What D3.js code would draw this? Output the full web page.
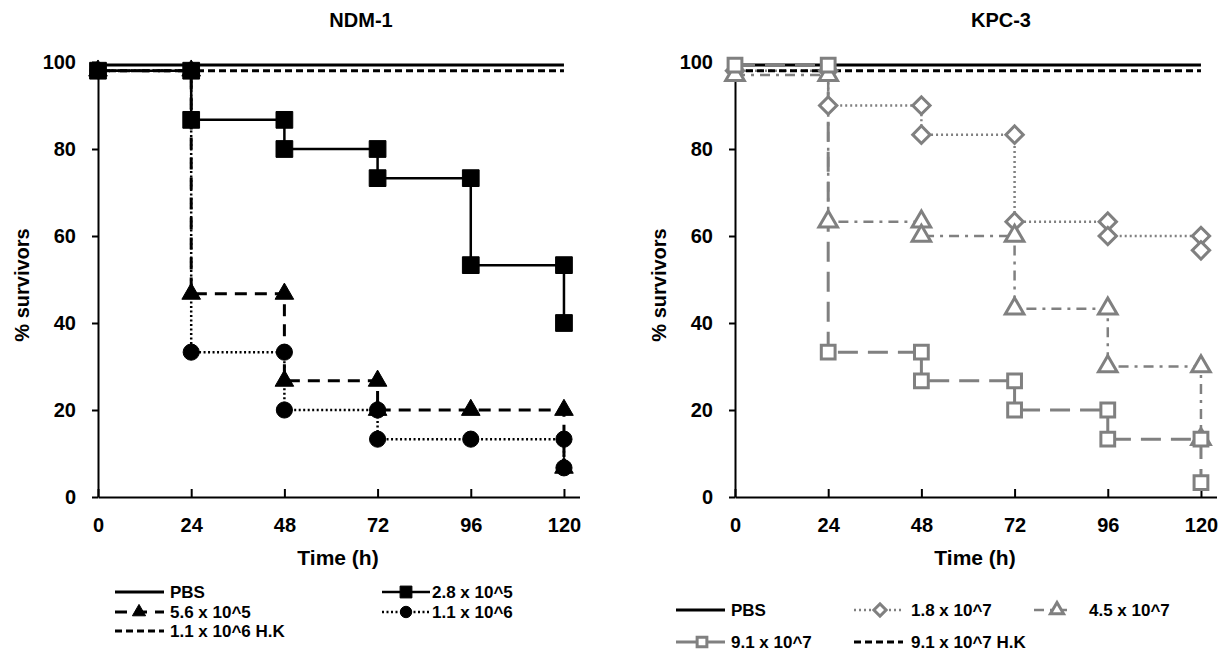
<!DOCTYPE html>
<html>
<head>
<meta charset="utf-8">
<script src="https://cdn.jsdelivr.net/npm/d3@7"></script>
<style>
  body { margin: 0; background: #fff; }
  text { font-family: "Liberation Sans", Arial, sans-serif; font-weight: bold; fill: #000; }
</style>
</head>
<body>
<div id="chart"></div>
<script>
// tick values
const ticksX = [0, 24, 48, 72, 96, 120];
const ticksY = [0, 20, 40, 60, 80, 100];

// NDM-1 panel
const ndmTitle = "NDM-1";
const ndmLabels = ["PBS", "2.8 x 10^5", "5.6 x 10^5", "1.1 x 10^6", "1.1 x 10^6 H.K"];
const ndmPbsT = [0, 120];
const ndmPbsV = [99.3, 99.3];
const ndmHkT = [0, 120];
const ndmHkV = [98, 98];
const ndm28T = [0, 24, 24, 48, 48, 72, 72, 96, 96, 120, 120];
const ndm28V = [98, 98, 86.7, 86.7, 80, 80, 73.3, 73.3, 53.3, 53.3, 40];
const ndm56T = [0, 24, 24, 48, 48, 72, 72, 96, 120, 120];
const ndm56V = [98, 98, 46.7, 46.7, 26.7, 26.7, 20, 20, 20, 6.7];
const ndm11T = [0, 24, 24, 48, 48, 72, 72, 96, 120, 120];
const ndm11V = [98, 98, 33.3, 33.3, 20, 20, 13.3, 13.3, 13.3, 6.7];

// KPC-3 panel
const kpcTitle = "KPC-3";
const kpcLabels = ["PBS", "1.8 x 10^7", "4.5 x 10^7", "9.1 x 10^7", "9.1 x 10^7 H.K"];
const kpcPbsT = [0, 120];
const kpcPbsV = [99.3, 99.3];
const kpcHkT = [0, 120];
const kpcHkV = [98, 98];
const kpcStepT = [0, 24, 24, 48, 48, 72, 72, 96, 96, 120, 120];
const kpc18V = [98, 98, 90, 90, 83.3, 83.3, 63.3, 63.3, 60, 60, 56.7];
const kpc45V = [97, 97, 63.3, 63.3, 60, 60, 43.3, 43.3, 30, 30, 13.3];
const kpc91V = [99.3, 99.3, 33.3, 33.3, 26.7, 26.7, 20, 20, 13.3, 13.3, 3.3];

const GRAY = "#808080";

const svg = d3.select("#chart").append("svg")
  .attr("width", 1228).attr("height", 651);

// line styles
const sPbs  = { color: "#000", width: 3, dash: null };
const sHk   = { color: "#000", width: 3, dash: "7,4" };
const s28   = { color: "#000", width: 2.5, dash: null, sym: d3.symbolSquare, size: 280, fill: "#000", sw: 1 };
const s56   = { color: "#000", width: 3, dash: "12,8", sym: d3.symbolTriangle, size: 150, fill: "#000", sw: 1 };
const s11   = { color: "#000", width: 2.5, dash: "2,2.5", sym: d3.symbolCircle, size: 205, fill: "#000", sw: 1 };
const s18   = { color: GRAY, width: 2.5, dash: "2,3", sym: d3.symbolSquare, rot: 45, size: 150, fill: "#fff", sw: 3 };
const s45   = { color: GRAY, width: 2.5, dash: "10,6,3,6", sym: d3.symbolTriangle, size: 150, fill: "#fff", sw: 3 };
const s91   = { color: GRAY, width: 3, dash: "20,10", sym: d3.symbolSquare, size: 190, fill: "#fff", sw: 3 };

function styleLine(sel, s) {
  sel.attr("fill", "none")
    .attr("stroke", s.color)
    .attr("stroke-width", s.width)
    .attr("stroke-dasharray", s.dash);
}

function marker(g, s, px, py, scale = 1) {
  g.append("path")
    .attr("d", d3.symbol().type(s.sym).size(s.size * scale)())
    .attr("transform", "translate(" + px + "," + py + ")" + (s.rot ? " rotate(" + s.rot + ")" : ""))
    .attr("fill", s.fill)
    .attr("stroke", s.color)
    .attr("stroke-width", s.sw);
}

function Panel(left, title, titleX, ylabX, xlabX) {
  const g = svg.append("g");
  const x = d3.scaleLinear().domain([0, 124]).range([left, left + 481.5]);
  const y = d3.scaleLinear().domain([0, 100]).range([497, 62]);
  this.x = x; this.y = y; this.g = g;

  const xa = g.append("g").attr("transform", "translate(0," + y(0) + ")")
    .call(d3.axisBottom(x).tickValues(ticksX).tickSize(-8).tickSizeOuter(0).tickPadding(21));
  const ya = g.append("g").attr("transform", "translate(" + left + ",0)")
    .call(d3.axisLeft(y).tickValues(ticksY).tickSize(6).tickSizeOuter(0).tickPadding(16));
  [xa, ya].forEach(a => {
    a.select(".domain").attr("stroke", "#000").attr("stroke-width", 2);
    a.selectAll(".tick line").attr("stroke", "#000").attr("stroke-width", 2);
    a.selectAll(".tick text").attr("font-size", 20).attr("fill", "#000")
      .style("font-family", "'Liberation Sans', Arial, sans-serif").style("font-weight", "bold");
  });

  g.append("text").attr("x", titleX).attr("y", 27).attr("text-anchor", "middle")
    .attr("font-size", 20).text(title);
  g.append("text").attr("x", xlabX).attr("y", 565).attr("text-anchor", "middle")
    .attr("font-size", 21).text("Time (h)");
  g.append("text").attr("transform", "translate(" + ylabX + ",285) rotate(-90)")
    .attr("text-anchor", "middle").attr("font-size", 20).text("% survivors");

  this.series = function(ts, vs, s, withMarkers = true) {
    const idx = d3.range(ts.length);
    const line = d3.line().x(i => x(ts[i])).y(i => y(vs[i]));
    g.append("path").datum(idx).attr("d", line).call(styleLine, s);
    if (withMarkers && s.sym) this.markers(ts, vs, s);
  };
  this.markers = function(ts, vs, s) {
    ts.forEach((t, i) => marker(g, s, x(t), y(vs[i])));
  };
}

function legendItem(x1, x2, yy, s, label, tx, mx) {
  const g = svg.append("g");
  g.append("line").attr("x1", x1).attr("x2", x2).attr("y1", yy).attr("y2", yy).call(styleLine, s);
  if (s.sym) marker(g, s, mx !== undefined ? mx : (x1 + x2) / 2, yy, 0.5);
  g.append("text").attr("x", tx).attr("y", yy + 6).attr("font-size", 17).text(label);
}

// ---- NDM-1
const pL = new Panel(98, ndmTitle, 361, 29, 338);
pL.series(ndmPbsT, ndmPbsV, sPbs);
pL.series(ndmHkT, ndmHkV, sHk);
pL.series(ndm56T, ndm56V, s56, false);
pL.series(ndm11T, ndm11V, s11, false);
pL.series(ndm28T, ndm28V, s28, false);
pL.markers(ndm56T, ndm56V, s56);
pL.markers(ndm11T, ndm11V, s11);
pL.markers(ndm28T, ndm28V, s28);

legendItem(115, 164, 592, sPbs, ndmLabels[0], 170);
legendItem(382, 430, 592, s28, ndmLabels[1], 432, 406);
legendItem(115, 164, 612, s56, ndmLabels[2], 170, 139);
legendItem(382, 430, 612, s11, ndmLabels[3], 432, 406);
legendItem(115, 164, 631, sHk, ndmLabels[4], 170);

// ---- KPC-3
const pR = new Panel(735, kpcTitle, 1001, 666, 975);
pR.series(kpcPbsT, kpcPbsV, sPbs);
pR.series(kpcStepT, kpc18V, s18, false);
pR.series(kpcStepT, kpc45V, s45, false);
pR.series(kpcStepT, kpc91V, s91, false);
pR.series(kpcHkT, kpcHkV, sHk);
pR.markers(kpcStepT, kpc18V, s18);
pR.markers(kpcStepT, kpc45V, s45);
pR.markers(kpcStepT, kpc91V, s91);

legendItem(676, 725, 610, sPbs, kpcLabels[0], 731);
legendItem(854, 903, 610, s18, kpcLabels[1], 911, 880);
legendItem(1034, 1067, 610, s45, kpcLabels[2], 1089, 1057);
legendItem(676, 725, 642, s91, kpcLabels[3], 731, 702);
legendItem(854, 903, 642, sHk, kpcLabels[4], 911);
</script>
</body>
</html>
